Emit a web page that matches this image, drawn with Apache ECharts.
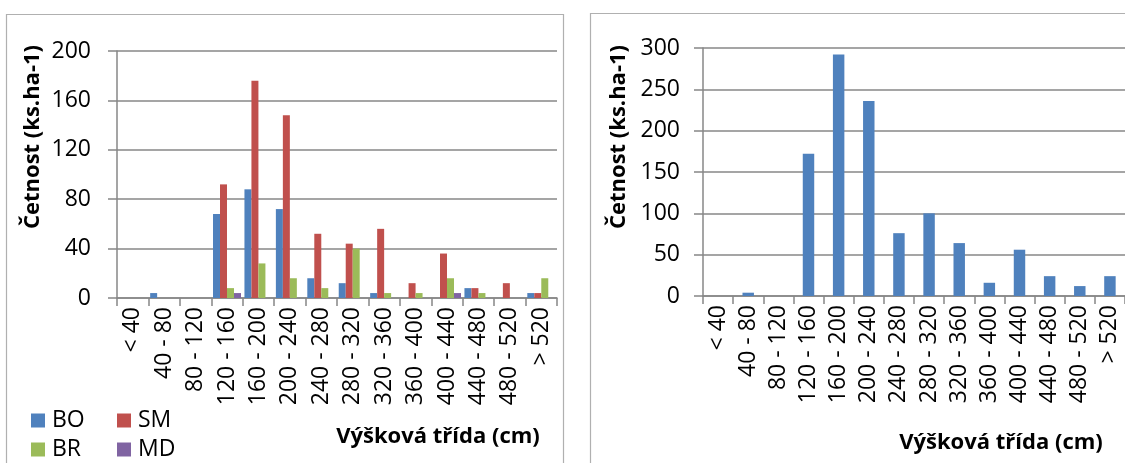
<!DOCTYPE html>
<html>
<head>
<meta charset="utf-8">
<script src="https://cdn.jsdelivr.net/npm/echarts@6/dist/echarts.min.js"></script>
<style>
  html, body { margin: 0; padding: 0; background: #fff; }
  #chart { width: 1125px; height: 463px; }
</style>
</head>
<body>
<div id="chart"></div>
<script>
// Height classes (cm)
const categories = ['< 40', '40 - 80', '80 - 120', '120 - 160', '160 - 200', '200 - 240', '240 - 280',
  '280 - 320', '320 - 360', '360 - 400', '400 - 440', '440 - 480', '480 - 520', '> 520'];

// Frequency by species (ks.ha-1)
const valuesBO = [0, 4, 0, 68, 88, 72, 16, 12, 4, 0, 0, 8, 0, 4];
const valuesSM = [0, 0, 0, 92, 176, 148, 52, 44, 56, 12, 36, 8, 12, 4];
const valuesBR = [0, 0, 0, 8, 28, 16, 8, 40, 4, 4, 16, 4, 0, 16];
const valuesMD = [0, 0, 0, 4, 0, 0, 0, 0, 0, 0, 4, 0, 0, 0];

// Frequency of all species together (ks.ha-1)
const valuesTotal = [0, 4, 0, 172, 292, 236, 76, 100, 64, 16, 56, 24, 12, 24];

const speciesNames = ['BO', 'SM', 'BR', 'MD'];
const speciesColors = ['#4F81BD', '#C0504D', '#9BBB59', '#8064A2'];

const FONT = '"Open Sans", "Liberation Sans", sans-serif';
const LABEL_SIZE = 23;
const TITLE_SIZE = 22;
const AXIS_GREY = '#878787';
const BORDER_GREY = '#b0b0b0';

const chart = echarts.init(document.getElementById('chart'), null, { renderer: 'canvas' });

function catAxis(gridIndex) {
  return {
    type: 'category',
    gridIndex: gridIndex,
    data: categories,
    boundaryGap: true,
    axisLine: { show: true, lineStyle: { color: AXIS_GREY, width: 1.5 } },
    axisTick: { show: true, length: 8, alignWithLabel: false, interval: 0, lineStyle: { color: AXIS_GREY, width: 1.5 } },
    axisLabel: { interval: 0, rotate: 90, margin: 9, fontFamily: FONT, fontSize: LABEL_SIZE, color: '#000' },
    splitLine: { show: false }
  };
}

function valAxis(gridIndex, max, interval, margin) {
  return {
    type: 'value',
    gridIndex: gridIndex,
    min: 0,
    max: max,
    interval: interval,
    axisLine: { show: true, lineStyle: { color: AXIS_GREY, width: 1.5 } },
    axisTick: { show: true, length: 9, lineStyle: { color: AXIS_GREY, width: 1.5 } },
    axisLabel: { margin: margin, fontFamily: FONT, fontSize: LABEL_SIZE, color: '#000' },
    splitLine: { show: true, lineStyle: { color: AXIS_GREY, width: 1.5 } }
  };
}

const speciesData = [valuesBO, valuesSM, valuesBR, valuesMD];

const series = speciesNames.map((name, i) => ({
  name: name,
  type: 'bar',
  xAxisIndex: 0,
  yAxisIndex: 0,
  data: speciesData[i],
  barGap: '0%',
  barCategoryGap: '11%',
  itemStyle: { color: speciesColors[i] },
  animation: false
}));

series.push({
  name: 'Celkem',
  type: 'bar',
  xAxisIndex: 1,
  yAxisIndex: 1,
  data: valuesTotal,
  barCategoryGap: '62%',
  itemStyle: { color: '#4F81BD' },
  animation: false
});

const legendBase = {
  orient: 'vertical',
  icon: 'rect',
  itemWidth: 14,
  itemHeight: 14,
  itemGap: 6,
  selectedMode: false,
  padding: 0,
  textStyle: { fontFamily: FONT, fontSize: LABEL_SIZE, color: '#000', lineHeight: 22, padding: [0, 0, 0, 2] }
};

const option = {
  backgroundColor: '#fff',
  animation: false,
  grid: [
    { left: 117, top: 51, width: 440, height: 247, containLabel: false },
    { left: 703, top: 48, width: 426.5, height: 248, containLabel: false }
  ],
  xAxis: [catAxis(0), catAxis(1)],
  yAxis: [valAxis(0, 200, 40, 26), valAxis(1, 300, 50, 23)],
  legend: [
    Object.assign({}, legendBase, { left: 31, top: 409, data: ['BO', 'BR'] }),
    Object.assign({}, legendBase, { left: 117, top: 409, data: ['SM', 'MD'] })
  ],
  series: series,
  graphic: [
    // panel frames
    { type: 'rect', shape: { x: 6.5, y: 14.5, width: 557, height: 470 }, style: { fill: 'none', stroke: BORDER_GREY, lineWidth: 1.2 }, z: -1 },
    { type: 'rect', shape: { x: 590.5, y: 13.5, width: 560, height: 470 }, style: { fill: 'none', stroke: BORDER_GREY, lineWidth: 1.2 }, z: -1 },
    // y-axis titles
    { type: 'text', x: 33, y: 137, rotation: Math.PI / 2,
      style: { text: 'Četnost (ks.ha-1)', fontFamily: FONT, fontSize: TITLE_SIZE, fontWeight: 'bold', fill: '#000', textAlign: 'center', textVerticalAlign: 'middle' } },
    { type: 'text', x: 619, y: 137, rotation: Math.PI / 2,
      style: { text: 'Četnost (ks.ha-1)', fontFamily: FONT, fontSize: TITLE_SIZE, fontWeight: 'bold', fill: '#000', textAlign: 'center', textVerticalAlign: 'middle' } },
    // x-axis titles
    { type: 'text', x: 438, y: 437,
      style: { text: 'Výšková třída (cm)', fontFamily: FONT, fontSize: TITLE_SIZE, fontWeight: 'bold', fill: '#000', textAlign: 'center', textVerticalAlign: 'middle' } },
    { type: 'text', x: 1001, y: 443,
      style: { text: 'Výšková třída (cm)', fontFamily: FONT, fontSize: TITLE_SIZE, fontWeight: 'bold', fill: '#000', textAlign: 'center', textVerticalAlign: 'middle' } }
  ]
};

chart.setOption(option);
</script>
</body>
</html>
